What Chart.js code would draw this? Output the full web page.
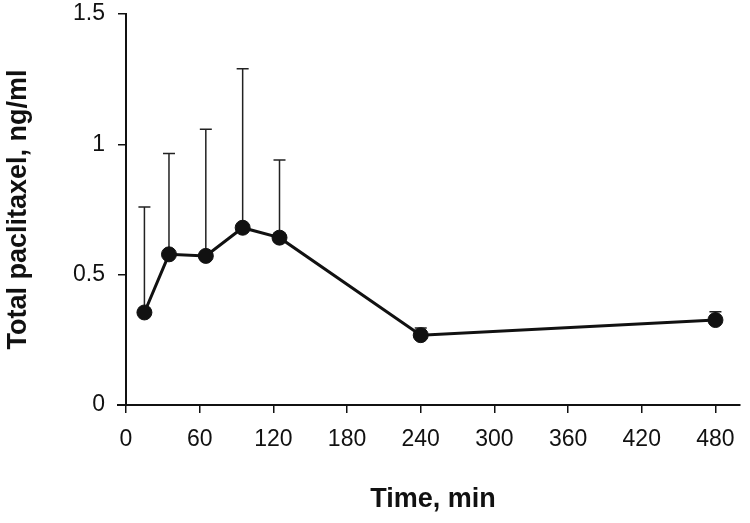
<!DOCTYPE html>
<html>
<head>
<meta charset="utf-8">
<script src="https://cdn.jsdelivr.net/npm/chart.js@4/dist/chart.umd.min.js"></script>
<style>
  html, body { margin: 0; padding: 0; background: #fff; }
  #wrap { width: 750px; height: 523px; }
</style>
</head>
<body>
<div id="wrap"><canvas id="chart"></canvas></div>
<script>
// time points (min) and mean total paclitaxel (ng/ml), upper SD
const times = [15, 35, 65, 95, 125, 240, 480];
const means = [0.355, 0.578, 0.572, 0.680, 0.642, 0.268, 0.326];
const upper = [0.76, 0.965, 1.058, 1.29, 0.94, 0.295, 0.358];
const xTicks = [0, 60, 120, 180, 240, 300, 360, 420, 480];
const yTicks = [0, 0.5, 1, 1.5];

const ink = '#111';

// upward error bars, drawn behind the line and markers
const errorBars = {
    id: 'errorBars',
    beforeDatasetsDraw(chart) {
        const { ctx, chartArea, scales: { x, y } } = chart;
        ctx.save();
        // x axis line runs a little past the y axis
        ctx.strokeStyle = ink;
        ctx.lineWidth = 2;
        ctx.beginPath();
        ctx.moveTo(chartArea.left - 9, chartArea.bottom);
        ctx.lineTo(chartArea.left, chartArea.bottom);
        ctx.stroke();

        ctx.strokeStyle = '#222';
        ctx.lineWidth = 1.5;
        times.forEach((t, i) => {
            const px = x.getPixelForValue(t);
            const y0 = y.getPixelForValue(means[i]);
            const y1 = y.getPixelForValue(upper[i]);
            ctx.beginPath();
            ctx.moveTo(px, y0);
            ctx.lineTo(px, y1);
            ctx.moveTo(px - 6, y1);
            ctx.lineTo(px + 6, y1);
            ctx.stroke();
        });
        ctx.restore();
    }
};

new Chart(document.getElementById('chart'), {
    type: 'line',
    data: {
        datasets: [{
            data: times.map((t, i) => ({ x: t, y: means[i] })),
            borderColor: ink,
            borderWidth: 3,
            pointRadius: 7.5,
            pointBackgroundColor: ink,
            pointBorderColor: ink,
            pointBorderWidth: 1,
            tension: 0
        }]
    },
    options: {
        responsive: true,
        maintainAspectRatio: false,
        animation: false,
        layout: { padding: { top: 0, right: 10, left: 0, bottom: 0 } },
        plugins: {
            legend: { display: false },
            tooltip: { enabled: false }
        },
        scales: {
            x: {
                type: 'linear',
                min: 0,
                max: 500,
                afterBuildTicks: s => { s.ticks = xTicks.map(v => ({ value: v })); },
                afterFit: s => { s.height = 118; },
                border: { display: true, color: ink, width: 2 },
                grid: { display: true, drawOnChartArea: false, drawTicks: true, tickLength: 8, color: ink, lineWidth: 1.5 },
                ticks: {
                    color: ink,
                    padding: 13,
                    maxRotation: 0,
                    font: { family: "'Liberation Sans', Arial, sans-serif", size: 23 }
                },
                title: {
                    display: true,
                    text: 'Time, min',
                    color: ink,
                    padding: { top: 0, bottom: 7 },
                    font: { family: "'Liberation Sans', Arial, sans-serif", size: 27, weight: 'bold' }
                }
            },
            y: {
                min: 0,
                max: 1.5,
                afterBuildTicks: s => { s.ticks = yTicks.map(v => ({ value: v })); },
                afterFit: s => { s.width = 126; s.paddingTop = 14; s.paddingBottom = 0; },
                border: { display: true, color: ink, width: 2 },
                grid: { display: true, drawOnChartArea: false, drawTicks: true, tickLength: 8, color: ink, lineWidth: 1.5 },
                ticks: {
                    color: ink,
                    padding: 13,
                    callback: v => String(v),
                    font: { family: "'Liberation Sans', Arial, sans-serif", size: 23 }
                },
                title: {
                    display: true,
                    text: 'Total paclitaxel, ng/ml',
                    color: ink,
                    padding: { top: 2, bottom: 0 },
                    font: { family: "'Liberation Sans', Arial, sans-serif", size: 27, weight: 'bold' }
                }
            }
        }
    },
    plugins: [errorBars]
});
</script>
</body>
</html>
